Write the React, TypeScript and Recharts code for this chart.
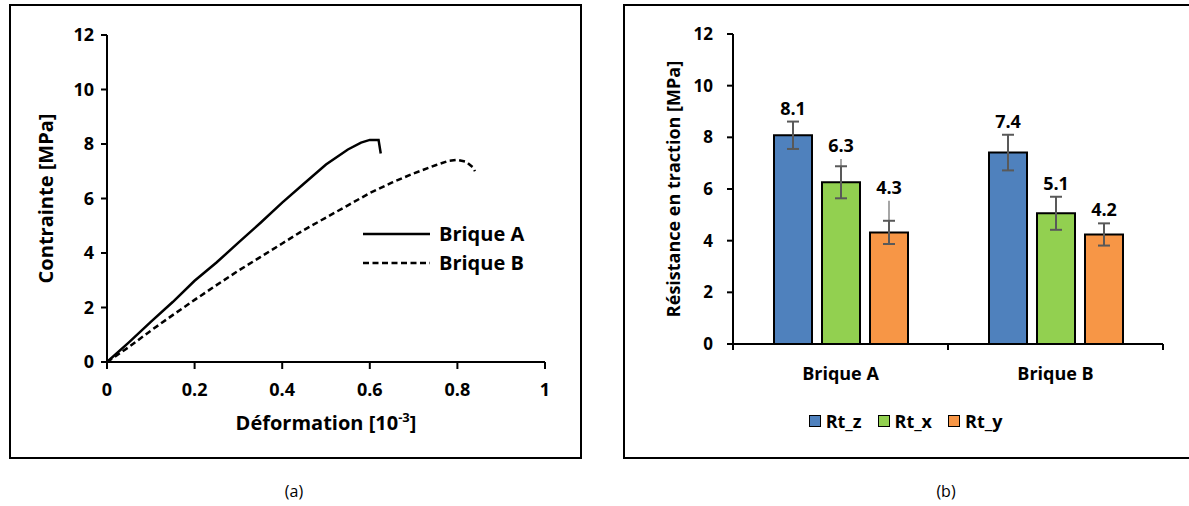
import React from 'react';
import {
  LineChart,
  Line,
  BarChart,
  Bar,
  ErrorBar,
  LabelList,
  XAxis,
  YAxis,
  Legend,
  Label,
} from 'recharts';

// (a) stress-strain curves
const strainA = [0, 0.05, 0.1, 0.15, 0.2, 0.25, 0.3, 0.35, 0.4, 0.45, 0.5, 0.55, 0.58, 0.6, 0.62, 0.625];
const stressA = [0, 0.72, 1.47, 2.2, 2.98, 3.65, 4.38, 5.1, 5.85, 6.55, 7.25, 7.8, 8.05, 8.15, 8.15, 7.65];
const strainB = [0, 0.05, 0.1, 0.15, 0.2, 0.25, 0.3, 0.35, 0.4, 0.45, 0.5, 0.55, 0.6, 0.65, 0.7, 0.75, 0.78, 0.8, 0.82, 0.835, 0.84];
const stressB = [0, 0.55, 1.15, 1.72, 2.28, 2.82, 3.35, 3.85, 4.35, 4.85, 5.3, 5.75, 6.2, 6.58, 6.92, 7.22, 7.38, 7.42, 7.35, 7.15, 7.0];
const strainTicks = [0, 0.2, 0.4, 0.6, 0.8, 1];
const stressTicks = [0, 2, 4, 6, 8, 10, 12];

// (b) tensile strength
const bricks = ['Brique A', 'Brique B'];
const rtZ = [8.08, 7.41];
const rtX = [6.26, 5.06];
const rtY = [4.32, 4.24];
const errZ = [0.53, 0.69];
const errX = [0.62, 0.64];
const errY = [0.45, 0.43];
const extraX = [0.9, 0];
const extraY = [1.23, 0];

const FONT = '"Open Sans", sans-serif';

const curveA = strainA.map((x, i) => ({ x, y: stressA[i] }));
const curveB = strainB.map((x, i) => ({ x, y: stressB[i] }));

const barRows = bricks.map((name, i) => ({
  name,
  Rt_z: rtZ[i],
  Rt_x: rtX[i],
  Rt_y: rtY[i],
  eZ: errZ[i],
  eX: errX[i],
  eY: errY[i],
  lX: [0, extraX[i]],
  lY: [0, extraY[i]],
}));

const axisStroke = { stroke: '#000', strokeWidth: 2 };

const XTitle = (props: any) => {
  const vb = props.viewBox || {};
  return (
    <text x={vb.x + vb.width / 2} y={vb.y + 68} textAnchor="middle" fontFamily={FONT} fontWeight={700} fontSize={20} fill="#000">
      Déformation [10
      <tspan dy={-8} fontSize={13}>-3</tspan>
      <tspan dy={8}>]</tspan>
    </text>
  );
};

const makeYTitle = (text: string, dx: number, size: number) => (props: any) => {
  const vb = props.viewBox || {};
  const cx = vb.x + dx;
  const cy = vb.y + vb.height / 2;
  return (
    <text
      x={cx}
      y={cy}
      transform={`rotate(-90, ${cx}, ${cy})`}
      textAnchor="middle"
      dominantBaseline="central"
      fontFamily={FONT}
      fontWeight={700}
      fontSize={size}
      fill="#000"
    >
      {text}
    </text>
  );
};

const LineLegend = () => (
  <div style={{ fontFamily: FONT, fontWeight: 700, fontSize: 20, color: '#000' }}>
    {[
      { name: 'Brique A', dash: undefined },
      { name: 'Brique B', dash: '6 3.5' },
    ].map((it) => (
      <div key={it.name} style={{ display: 'flex', alignItems: 'center', height: 29 }}>
        <svg width={67} height={10}>
          <line x1={0} y1={5} x2={67} y2={5} stroke="#000" strokeWidth={2.5} strokeDasharray={it.dash} />
        </svg>
        <span style={{ marginLeft: 9 }}>{it.name}</span>
      </div>
    ))}
  </div>
);

const barColors: Record<string, string> = { Rt_z: '#4F81BD', Rt_x: '#92D050', Rt_y: '#F79646' };

const BarLegend = () => (
  <div
    style={{
      display: 'flex',
      justifyContent: 'center',
      alignItems: 'center',
      paddingLeft: 14,
      fontFamily: FONT,
      fontWeight: 700,
      fontSize: 18,
      color: '#000',
    }}
  >
    {Object.keys(barColors).map((k) => (
      <div key={k} style={{ display: 'flex', alignItems: 'center', marginRight: 16 }}>
        <span
          style={{
            width: 10,
            height: 10,
            background: barColors[k],
            border: '1.5px solid #000',
            marginRight: 5,
            display: 'inline-block',
          }}
        />
        <span>{k}</span>
      </div>
    ))}
  </div>
);

// category label plus tick marks on the band edges (Excel style)
const CategoryTick = (props: any) => {
  const { x, y, payload, width, visibleTicksCount, index } = props;
  const half = Number(width) / Number(visibleTicksCount) / 2;
  const axisY = Number(y) - 23;
  return (
    <g>
      <line x1={x - half} y1={axisY} x2={x - half} y2={axisY + 6} stroke="#000" strokeWidth={2} />
      {index === visibleTicksCount - 1 && (
        <line x1={x + half} y1={axisY} x2={x + half} y2={axisY + 6} stroke="#000" strokeWidth={2} />
      )}
      <text x={x} y={y} dy="0.71em" textAnchor="middle" fontFamily={FONT} fontWeight={700} fontSize={18} fill="#000">
        {payload.value}
      </text>
    </g>
  );
};

const makeValueLabel = (errs: number[][]) => (props: any) => {
  const { x, y, width, height, value, index } = props;
  const v = Number(value);
  const top = Math.max(...errs.map((e) => e[index]));
  const ppu = Number(height) / v;
  return (
    <text
      x={Number(x) + Number(width) / 2}
      y={Number(y) - top * ppu - 7}
      textAnchor="middle"
      fontFamily={FONT}
      fontWeight={700}
      fontSize={18}
      fill="#000"
    >
      {v.toFixed(1)}
    </text>
  );
};

const tickStyle = (size: number) => ({ fill: '#000', fontSize: size, fontWeight: 700, fontFamily: FONT });

const App = () => {
  return (
    <div style={{ position: 'absolute', left: 0, top: 0, width: 1189, height: 506, background: '#fff', overflow: 'hidden' }}>
      {/* panel borders */}
      <div style={{ position: 'absolute', left: 9, top: 4, width: 573, height: 455, border: '2px solid #000', boxSizing: 'border-box' }} />
      <div style={{ position: 'absolute', left: 623, top: 4, width: 580, height: 455, border: '2px solid #000', boxSizing: 'border-box' }} />

      <div style={{ position: 'absolute', left: 9, top: 5 }}>
        <LineChart width={572} height={453} margin={{ top: 30, right: 36, bottom: 36, left: 18 }}>
          <XAxis
            type="number"
            dataKey="x"
            domain={[0, 1]}
            ticks={strainTicks}
            interval={0}
            height={60}
            axisLine={axisStroke}
            tickLine={axisStroke}
            tickSize={7}
            tickMargin={14}
            tick={tickStyle(18)}
          >
            <Label content={XTitle} />
          </XAxis>
          <YAxis
            type="number"
            domain={[0, 12]}
            ticks={stressTicks}
            interval={0}
            width={80}
            axisLine={axisStroke}
            tickLine={axisStroke}
            tickSize={6}
            tickMargin={7}
            tick={tickStyle(18)}
          >
            <Label content={makeYTitle('Contrainte [MPa]', 18, 20)} />
          </YAxis>
          <Legend
            layout="vertical"
            verticalAlign="middle"
            align="center"
            content={LineLegend}
            wrapperStyle={{ top: 214, left: 354, width: 200, height: 58 }}
          />
          <Line data={curveA} dataKey="y" name="Brique A" type="linear" stroke="#000" strokeWidth={2.5} dot={false} isAnimationActive={false} />
          <Line data={curveB} dataKey="y" name="Brique B" type="linear" stroke="#000" strokeWidth={2.5} strokeDasharray="6 3.5" dot={false} isAnimationActive={false} />
        </LineChart>
      </div>

      <div style={{ position: 'absolute', left: 625, top: 5 }}>
        <BarChart
          width={563}
          height={453}
          data={barRows}
          margin={{ top: 29, right: 25, bottom: 74, left: 28 }}
          barCategoryGap={41}
          barGap={10}
        >
          <XAxis
            dataKey="name"
            height={40}
            interval={0}
            axisLine={axisStroke}
            tickLine={false}
            tickSize={6}
            tickMargin={17}
            tick={<CategoryTick />}
          />
          <YAxis
            type="number"
            domain={[0, 12]}
            ticks={stressTicks}
            interval={0}
            width={80}
            axisLine={axisStroke}
            tickLine={axisStroke}
            tickSize={6}
            tickMargin={14}
            tick={tickStyle(17)}
          >
            <Label content={makeYTitle('Résistance en traction [MPa]', 20, 18)} />
          </YAxis>
          <Legend
            layout="vertical"
            verticalAlign="middle"
            align="center"
            content={BarLegend}
            wrapperStyle={{ top: 404, left: 0, width: 563, height: 26 }}
          />
          <Bar dataKey="Rt_z" fill={barColors.Rt_z} stroke="#000" strokeWidth={2} isAnimationActive={false}>
            <ErrorBar dataKey="eZ" width={6} stroke="#595959" strokeWidth={2} direction="y" />
            <LabelList dataKey="Rt_z" content={makeValueLabel([errZ])} />
          </Bar>
          <Bar dataKey="Rt_x" fill={barColors.Rt_x} stroke="#000" strokeWidth={2} isAnimationActive={false}>
            <ErrorBar dataKey="lX" width={0} stroke="#A6A6A6" strokeWidth={2} direction="y" />
            <ErrorBar dataKey="eX" width={6} stroke="#595959" strokeWidth={2} direction="y" />
            <LabelList dataKey="Rt_x" content={makeValueLabel([errX, extraX])} />
          </Bar>
          <Bar dataKey="Rt_y" fill={barColors.Rt_y} stroke="#000" strokeWidth={2} isAnimationActive={false}>
            <ErrorBar dataKey="lY" width={0} stroke="#A6A6A6" strokeWidth={2} direction="y" />
            <ErrorBar dataKey="eY" width={6} stroke="#595959" strokeWidth={2} direction="y" />
            <LabelList dataKey="Rt_y" content={makeValueLabel([errY, extraY])} />
          </Bar>
        </BarChart>
      </div>

      <div style={{ position: 'absolute', left: 254, top: 480, width: 80, textAlign: 'center', fontFamily: FONT, fontSize: 16, color: '#000' }}>(a)</div>
      <div style={{ position: 'absolute', left: 906, top: 480, width: 80, textAlign: 'center', fontFamily: FONT, fontSize: 16, color: '#000' }}>(b)</div>
    </div>
  );
};

export default App;
